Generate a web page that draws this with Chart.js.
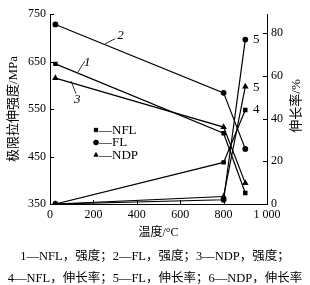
<!DOCTYPE html>
<html>
<head>
<meta charset="utf-8">
<script src="https://cdn.jsdelivr.net/npm/chart.js@4/dist/chart.umd.min.js"></script>
<style>
  body { margin: 0; background: #fff; }
  #wrap { position: relative; width: 310px; height: 285px; }
  .cap { position: absolute; left: 0; width: 310px; text-align: center; font: 12.5px "Liberation Serif", "Noto Sans CJK SC"; color: #000; white-space: nowrap; }
</style>
</head>
<body>
<div id="wrap">
  <canvas id="c" width="310" height="285"></canvas>
  <div class="cap" style="top:245px">1—NFL，强度；2—FL，强度；3—NDP，强度；</div>
  <div class="cap" style="top:267px">4—NFL，伸长率；5—FL，伸长率；6—NDP，伸长率</div>
</div>
<script>
// --- dados ---
const temps = [25, 800, 900];
const nflStrength = [645, 499, 373];
const flStrength = [728, 584, 466];
const ndpStrength = [615, 512, 394];
const nflElong = [0, 19.5, 44];
const flElong = [0, 2, 77];
const ndpElong = [0, 3.5, 55];

const xTicks = [0, 200, 400, 600, 800, 1000];
const leftTicks = [350, 450, 550, 650, 750];
const rightTicks = [0, 20, 40, 60, 80];

const serif = '"Liberation Serif", "Noto Sans CJK SC"';

function pts(ys) {
    return temps.map((t, i) => ({ x: t, y: ys[i] }));
}

function series(label, ys, style, axis) {
    return {
        label: label,
        data: pts(ys),
        yAxisID: axis,
        borderColor: '#000',
        backgroundColor: '#000',
        borderWidth: 1.2,
        pointStyle: style,
        pointRadius: style === 'triangle' ? 2.6 : 2.3,
        tension: 0
    };
}

// rótulos numéricos das curvas (coordenadas em dados)
const curveLabels = [
    { text: '2', x: 325, y: 704, from: [253, 687], to: [300, 698] },
    { text: '1', x: 172, y: 648, from: [129, 628], to: [161, 651] },
    { text: '3', x: 125, y: 570, from: [97, 609], to: [120, 582] },
    { text: '5', x: 935, e: 77 },
    { text: '5', x: 935, e: 54.5 },
    { text: '4', x: 935, e: 44 }
];

const legendItems = [
    { style: 'rect', text: '—NFL' },
    { style: 'circle', text: '—FL' },
    { style: 'triangle', text: '—NDP' }
];

const extras = {
    id: 'extras',
    afterDraw(chart) {
        const c = chart.ctx;
        const a = chart.chartArea;
        const sx = chart.scales.x, sy = chart.scales.y, sy1 = chart.scales.y1;
        c.save();
        c.strokeStyle = '#000';
        c.lineWidth = 1;
        // marcas de escala para dentro
        c.beginPath();
        xTicks.forEach(v => { const p = Math.round(sx.getPixelForValue(v)) + 0.5; c.moveTo(p, a.bottom); c.lineTo(p, a.bottom - 4); });
        leftTicks.forEach(v => { const p = Math.round(sy.getPixelForValue(v)) + 0.5; c.moveTo(a.left, p); c.lineTo(a.left + 4, p); });
        rightTicks.forEach(v => { const p = Math.round(sy1.getPixelForValue(v)) + 0.5; c.moveTo(a.right, p); c.lineTo(a.right - 4, p); });
        c.stroke();

        // títulos verticais (ambos lidos de baixo para cima)
        c.fillStyle = '#000';
        c.font = '13px ' + serif;
        c.textAlign = 'center';
        c.textBaseline = 'middle';
        const midY = (a.top + a.bottom) / 2;
        c.save();
        c.translate(14, midY);
        c.rotate(-Math.PI / 2);
        c.fillText('极限拉伸强度/MPa', 0, 0);
        c.restore();
        c.save();
        c.translate(297, midY - 3);
        c.rotate(-Math.PI / 2);
        c.fillText('伸长率/%', 0, 0);
        c.restore();

        // rótulos das curvas
        curveLabels.forEach(l => {
            const px = sx.getPixelForValue(l.x);
            const py = l.e !== undefined ? sy1.getPixelForValue(l.e) : sy.getPixelForValue(l.y);
            c.font = (l.e !== undefined ? '13px ' : 'italic 13px ') + serif;
            c.textAlign = l.e !== undefined ? 'left' : 'center';
            c.fillText(l.text, px, py);
            if (l.from) {
                c.beginPath();
                c.lineWidth = 0.8;
                c.moveTo(sx.getPixelForValue(l.from[0]), sy.getPixelForValue(l.from[1]));
                c.lineTo(sx.getPixelForValue(l.to[0]), sy.getPixelForValue(l.to[1]));
                c.stroke();
            }
        });

        // legenda
        c.font = '13px ' + serif;
        c.textAlign = 'left';
        legendItems.forEach((it, i) => {
            const lx = a.left + 46, ly = a.top + 116 + i * 12.5;
            Chart.helpers.drawPoint(c, { pointStyle: it.style, radius: 2.4, borderWidth: 1 }, lx, ly);
            c.fill();
            c.fillText(it.text, lx + 3, ly + 0.5);
        });
        c.restore();
    }
};

new Chart(document.getElementById('c'), {
    type: 'line',
    data: {
        datasets: [
            series('1', nflStrength, 'rect', 'y'),
            series('2', flStrength, 'circle', 'y'),
            series('3', ndpStrength, 'triangle', 'y'),
            series('4', nflElong, 'rect', 'y1'),
            series('5', flElong, 'circle', 'y1'),
            series('6', ndpElong, 'triangle', 'y1')
        ]
    },
    options: {
        responsive: false,
        animation: false,
        layout: { padding: { top: 14, bottom: 45, left: 0, right: 0 } },
        plugins: { legend: { display: false }, tooltip: { enabled: false } },
        scales: {
            x: {
                type: 'linear', min: 0, max: 1000,
                afterBuildTicks: s => { s.ticks = xTicks.map(v => ({ value: v })); },
                afterFit: s => { s.height = 36; },
                ticks: { color: '#000', font: { family: serif, size: 12 }, padding: 4, maxRotation: 0,
                    callback: v => v === 1000 ? '1 000' : v },
                grid: { drawOnChartArea: false, drawTicks: false },
                border: { display: true, color: '#000', width: 1 },
                title: { display: true, text: '温度/°C', color: '#000', font: { family: serif, size: 12 }, padding: { top: 0, bottom: 0 } }
            },
            y: {
                position: 'left', min: 350, max: 750,
                afterBuildTicks: s => { s.ticks = leftTicks.map(v => ({ value: v })); },
                afterFit: s => { s.width = 50; },
                ticks: { color: '#000', font: { family: serif, size: 12 }, padding: 4 },
                grid: { drawOnChartArea: false, drawTicks: false },
                border: { display: true, color: '#000', width: 1 }
            },
            y1: {
                position: 'right', min: 0, max: 89,
                afterBuildTicks: s => { s.ticks = rightTicks.map(v => ({ value: v })); },
                afterFit: s => { s.width = 43; },
                ticks: { color: '#000', font: { family: serif, size: 12 }, padding: 4 },
                grid: { drawOnChartArea: false, drawTicks: false },
                border: { display: true, color: '#000', width: 1 }
            }
        }
    },
    plugins: [extras]
});
</script>
</body>
</html>
